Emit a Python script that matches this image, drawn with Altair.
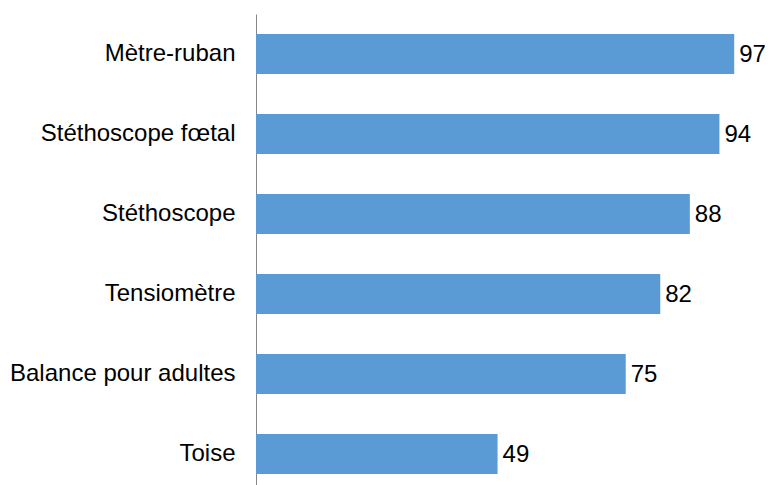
import altair as alt
import pandas as pd

categories = ["Mètre-ruban", "Stéthoscope fœtal", "Stéthoscope", "Tensiomètre",
              "Balance pour adultes", "Toise"]
values = [97, 94, 88, 82, 75, 49]

df = pd.DataFrame({"cat": categories, "val": values})

y = alt.Y("cat:N", sort=categories, title=None,
          scale=alt.Scale(paddingInner=0.5, paddingOuter=0.25),
          axis=alt.Axis(ticks=False, labelPadding=21, labelFontSize=24,
                        labelFont="Liberation Sans", labelColor="#000000",
                        domainColor="#868686", domainWidth=1, labelLimit=400))
x = alt.X("val:Q", title=None, scale=alt.Scale(domain=[0, 100]), axis=None)

bars = alt.Chart(df).mark_bar(color="#5B9BD5").encode(x=x, y=y)
text = alt.Chart(df).mark_text(align="left", baseline="middle", dx=5, dy=1, fontSize=24,
                               font="Liberation Sans", color="#000000").encode(
    x=x, y=y, text="val:Q")

chart = (bars + text).properties(
    width=493, height=480,
    autosize=alt.AutoSizeParams(type="none"),
    padding={"left": 248, "top": 6, "right": 16, "bottom": 0},
).configure_view(stroke=None).configure_axis(grid=False)

chart.save("out.html", embed_options={"renderer": "svg", "actions": False})
